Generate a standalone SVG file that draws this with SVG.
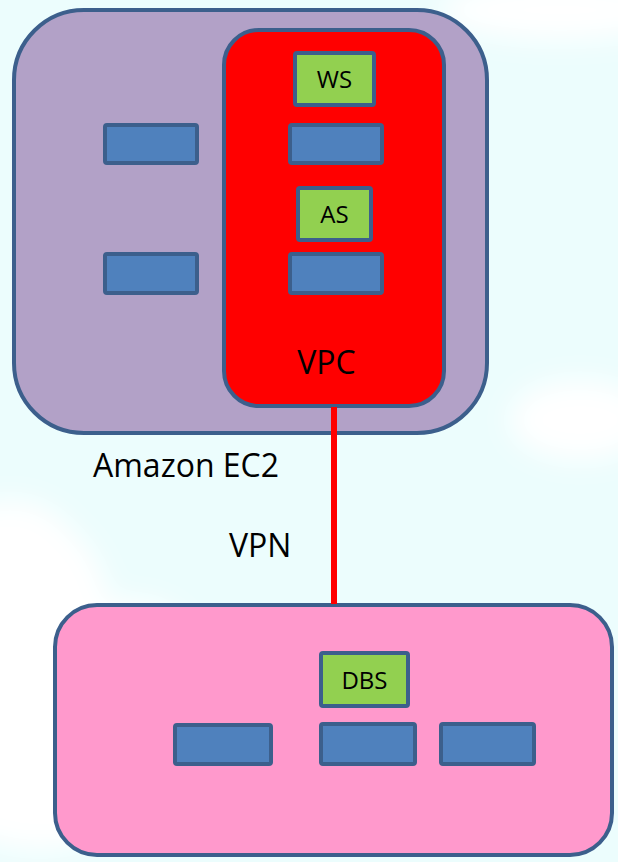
<svg xmlns="http://www.w3.org/2000/svg" width="618" height="862" viewBox="0 0 618 862">
  <defs>
    <filter id="blur" x="-50%" y="-50%" width="200%" height="200%">
      <feGaussianBlur stdDeviation="14"/>
    </filter>
    <style>
      .frame { stroke: #3c5f8c; stroke-width: 4; }
      .blue { fill: #4f81bd; stroke: #3c5f8c; stroke-width: 4; }
      .green { fill: #92d050; stroke: #3c5f8c; stroke-width: 4; }
      .lbl { font-family: "Open Sans", "Noto Sans", "Liberation Sans", sans-serif; fill: #000000; }
      .small { font-size: 24px; text-anchor: middle; }
      .big { font-size: 32px; }
      .conn { stroke: #ff0000; stroke-width: 6; fill: none; }
    </style>
  </defs>

  <!-- background -->
  <rect x="0" y="0" width="618" height="862" fill="#ecfdfd"/>
  <g filter="url(#blur)" fill="#ffffff">
    <ellipse cx="20" cy="620" rx="90" ry="110"/>
    <ellipse cx="40" cy="760" rx="120" ry="90"/>
    <ellipse cx="10" cy="560" rx="70" ry="60"/>
    <ellipse cx="580" cy="420" rx="70" ry="40"/>
    <ellipse cx="560" cy="10" rx="120" ry="30"/>
    <ellipse cx="130" cy="640" rx="60" ry="40"/>
  </g>

  <g id="ec2">
    <rect class="frame" x="14" y="10" width="473" height="423" rx="70" ry="70" fill="#b2a1c7"/>
    <rect class="blue" x="105" y="125" width="92" height="38" rx="2"/>
    <rect class="blue" x="105" y="254" width="92" height="39" rx="2"/>
    <text class="lbl big" x="93" y="477">Amazon EC2</text>
  </g>

  <g id="vpc">
    <rect class="frame" x="224" y="30" width="220" height="376" rx="35" ry="35" fill="#ff0000"/>
    <text class="lbl big" x="326.5" y="374" text-anchor="middle">VPC</text>
  </g>

  <g id="ws">
    <rect class="green" x="295" y="53" width="79" height="52" rx="2"/>
    <text class="lbl small" x="334.5" y="88">WS</text>
  </g>
  <g id="vpc-blue-1">
    <rect class="blue" x="290" y="125" width="92" height="38" rx="2"/>
  </g>
  <g id="as">
    <rect class="green" x="298" y="188" width="73" height="52" rx="2"/>
    <text class="lbl small" x="334.5" y="223">AS</text>
  </g>
  <g id="vpc-blue-2">
    <rect class="blue" x="290" y="254" width="92" height="39" rx="2"/>
  </g>

  <g id="datacenter">
    <rect class="frame" x="55" y="605" width="557" height="250" rx="42" ry="42" fill="#ff99cc"/>
  </g>
  <g id="dbs">
    <rect class="green" x="321" y="653" width="87" height="53" rx="2"/>
    <text class="lbl small" x="364.5" y="689">DBS</text>
  </g>
  <g id="dc-blue-1">
    <rect class="blue" x="175" y="725" width="96" height="39" rx="2"/>
  </g>
  <g id="dc-blue-2">
    <rect class="blue" x="321" y="724" width="94" height="40" rx="2"/>
  </g>
  <g id="dc-blue-3">
    <rect class="blue" x="441" y="724" width="93" height="40" rx="2"/>
  </g>

  <g id="connectors">
    <line class="conn" x1="334" y1="407" x2="334" y2="604"/>
    <text class="lbl big" x="229" y="557">VPN</text>
  </g>
</svg>
